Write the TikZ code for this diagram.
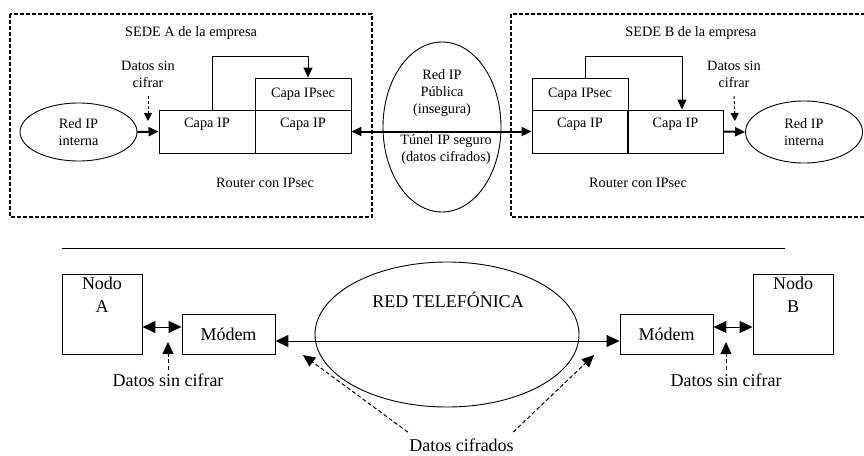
\documentclass[tikz,border=0pt]{standalone}
\usepackage{fontspec}
\setmainfont{Liberation Serif}
\usetikzlibrary{arrows.meta,shapes.geometric}
\newcommand{\topfont}{\fontsize{14.3}{17}\selectfont}
\newcommand{\botfont}{\fontsize{18}{23}\selectfont}

\begin{document}
\begin{tikzpicture}
	[x=1pt, y=-1pt,
	line width=0.9pt,
	frame/.style={draw, dash pattern=on 4pt off 2pt, line width=1.4pt},
	layer/.style={draw, inner sep=0pt, minimum width=96pt},
	blob/.style={draw, ellipse, inner sep=0pt, align=center},
	box/.style={draw, inner sep=0pt, align=center},
	txt/.style={align=center},
	uplabel/.style={label={[anchor=north,align=center,yshift=-5pt]north:#1}},
	flow/.style={-{Triangle[length=10pt,width=9pt]}, line width=2pt},
	tunnel/.style={{Triangle[length=10pt,width=9pt]}-{Triangle[length=10pt,width=9pt]}, line width=2pt},
	hop/.style={-{Triangle[length=10pt,width=9pt]}, line width=1pt},
	hint/.style={-{Triangle[length=8pt,width=8pt]}, dash pattern=on 3pt off 2pt, line width=1pt},
	bighint/.style={-{Triangle[length=12pt,width=11pt]}, dash pattern=on 4pt off 2.5pt, line width=1pt},
	link/.style={{Triangle[length=13pt,width=12pt]}-{Triangle[length=13pt,width=12pt]}, line width=1pt}]

	\useasboundingbox (0,0) rectangle (864,455);

	% Draw sites with IPsec routers
	\begin{scope}[every node/.append style={font=\topfont}]
		\draw[frame] (10,14) rectangle (372,217);
		\draw[frame] (511,14) rectangle (872,217);

		\node (sedeA) at (191,33) {SEDE A de la empresa};
		\node (sedeB) at (691,33) {SEDE B de la empresa};

		\node[blob, minimum width=117pt, minimum height=58pt] (redA) at (78.5,132) {Red IP\\interna};
		\node[blob, minimum width=117pt, minimum height=62pt] (redB) at (804,132) {Red IP\\interna};

		\node[layer, minimum height=43pt, uplabel=Capa IP] (ipA1) at (207,131.5) {};
		\node[layer, minimum height=43pt, uplabel=Capa IP] (ipA2) at (303,131.5) {};
		\node[layer, minimum height=32pt] (secA) at (303,94) {Capa IPsec};

		\node[layer, minimum height=43pt, uplabel=Capa IP] (ipB1) at (580,131.5) {};
		\node[layer, minimum height=43pt, uplabel=Capa IP] (ipB2) at (675.5,131.5) {};
		\node[layer, minimum height=32pt] (secB) at (580,94) {Capa IPsec};

		\node (routA) at (265,183) {Router con IPsec};
		\node (routB) at (638,183) {Router con IPsec};

		\node[txt] (datA) at (148,74) {Datos sin\\cifrar};
		\node[txt] (datB) at (734,74) {Datos sin\\cifrar};

		% Public network
		\node[blob, minimum width=118pt, minimum height=170pt] (pub) at (442,127) {};
		\node[txt] (pubTxt) at (442,93.5) {Red IP\\Pública\\(insegura)};
		\node[txt] (tunTxt) at (446,149.5) {Túnel IP seguro\\(datos cifrados)};

		% Arrows
		\coordinate (inA) at (148,121);
		\coordinate (outB) at (735,121);
		\coordinate (loopA) at (308,56);
		\coordinate (loopB) at (682,56);

		\draw[flow] (redA.east) -- (ipA1.west);
		\draw[hint] ([yshift=-5pt]datA.south) -- (inA);
		\draw[hop] ([xshift=5pt]ipA1.north) |- (loopA) -- (loopA |- secA.north);
		\draw[tunnel] (ipA2.east) -- (ipB1.west);
		\draw[hop] ([xshift=5pt]secB.north) |- (loopB) -- (loopB |- ipB2.north);
		\draw[flow] (ipB2.east) -- (redB.west);
		\draw[hint] ([yshift=-5pt]datB.south) -- (outB);
	\end{scope}

	% Separator
	\coordinate (sepL) at (62,248);
	\coordinate (sepR) at (785,248);
	\draw (sepL) -- (sepR);

	% Draw telephone link
	\begin{scope}[every node/.append style={font=\botfont}]
		\node[box, minimum size=80pt, label={[anchor=north,align=center]north:Nodo\\A}] (nodoA) at (102,314) {};
		\node[box, minimum size=80pt, label={[anchor=north,align=center]north:Nodo\\B}] (nodoB) at (793,314) {};
		\node[box, minimum width=93pt, minimum height=40pt] (modA) at (228.5,334) {Módem};
		\node[box, minimum width=93pt, minimum height=40pt] (modB) at (666.5,334) {Módem};

		\node[blob, minimum width=264pt, minimum height=145pt] (tel) at (447,334.5) {};
		\node (telTxt) at (448,300) {RED TELEFÓNICA};

		\node (datC) at (168,380) {Datos sin cifrar};
		\node (datD) at (726,380) {Datos sin cifrar};
		\node[inner sep=0pt] (cif) at (461.5,445) {Datos cifrados};

		\coordinate (plainA) at (168,342);
		\coordinate (plainB) at (726,342);
		\coordinate (cifA) at (303,355);
		\coordinate (cifB) at (594,355);

		\draw[link] ([yshift=-13pt]nodoA.east) -- ([yshift=7pt]modA.west);
		\draw[link] ([yshift=7pt]modB.east) -- ([yshift=-13pt]nodoB.west);
		\draw[link] ([yshift=-7pt]modA.east) -- ([yshift=-7pt]modB.west);

		\draw[bighint] (datC.north) -- (plainA);
		\draw[bighint] (datD.north) -- (plainB);
		\draw[bighint] ([xshift=-1pt,yshift=6pt]cif.north west) -- (cifA);
		\draw[bighint] ([xshift=-1pt,yshift=6pt]cif.north east) -- (cifB);
	\end{scope}

\end{tikzpicture}
\end{document}
